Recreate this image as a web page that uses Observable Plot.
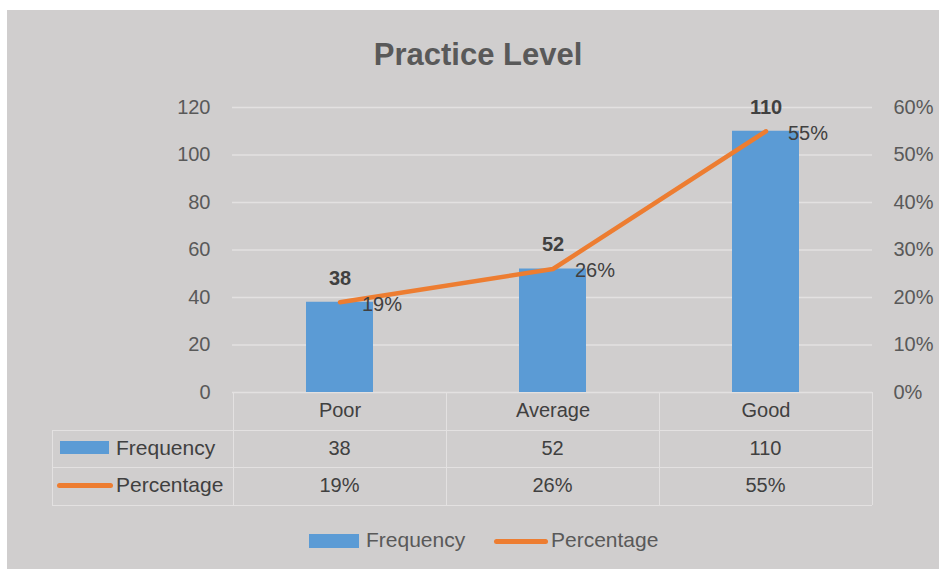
<!DOCTYPE html>
<html>
<head>
<meta charset="utf-8">
<script src="https://cdn.jsdelivr.net/npm/d3@7"></script>
<script src="https://cdn.jsdelivr.net/npm/@observablehq/plot@0.6"></script>
<style>
  html, body { margin: 0; padding: 0; background: #ffffff; }
  body { width: 939px; height: 569px; position: relative; overflow: hidden;
         font-family: "Liberation Sans", Arial, sans-serif; }
  #panel { position: absolute; left: 7px; top: 10px; width: 932px; height: 559px; background: #d0cece; }
  #title { position: absolute; left: 0; width: 956px; top: 37px; text-align: center;
           font-size: 31px; font-weight: bold; color: #595959; }
  #chart { position: absolute; left: 0; top: 0; }
  .hl, .vl { position: absolute; background: #e3e1e1; }
  .cell { position: absolute; font-size: 20px; color: #404040; text-align: center; line-height: 20px; }
  .lbl { position: absolute; font-size: 21px; color: #404040; line-height: 20px; }
  .leg { position: absolute; font-size: 21px; color: #595959; line-height: 20px; }
</style>
</head>
<body>
<div id="panel"></div>
<div id="title">Practice Level</div>
<div id="chart"></div>
<div id="table"></div>
<div id="legend"></div>
<script>
// ---- data ----
const categories = ["Poor", "Average", "Good"];
const frequency = [38, 52, 110];
const percentage = [0.19, 0.26, 0.55];
const leftTicks = [0, 20, 40, 60, 80, 100, 120];
const rightTicks = [0, 0.1, 0.2, 0.3, 0.4, 0.5, 0.6];
const seriesNames = ["Frequency", "Percentage"];

const blue = "#5b9bd5", orange = "#ed7d31";
const yMax = 120, pctMax = 0.6;
const toY = p => p * yMax / pctMax;

const rows = categories.map((c, i) => ({cat: c, freq: frequency[i], pct: percentage[i]}));

const W = 939, H = 569, mL = 232, mR = 67, mT = 107, mB = 177;

const chart = Plot.plot({
  width: W, height: H,
  marginLeft: mL, marginRight: mR, marginTop: mT, marginBottom: mB,
  style: {background: "transparent", fontFamily: "'Liberation Sans', Arial, sans-serif", fontSize: "20px", color: "#595959"},
  x: {domain: categories, padding: 0},
  y: {domain: [0, yMax]},
  marks: [
    Plot.ruleY(leftTicks, {stroke: "#e3e1e1", strokeWidth: 1.3}),
    Plot.barY(rows, {x: "cat", y: "freq", fill: blue, insetLeft: 73, insetRight: 73}),
    Plot.lineY(rows, {x: "cat", y: d => toY(d.pct), stroke: orange, strokeWidth: 4.5, strokeLinecap: "round", strokeLinejoin: "round"}),
    Plot.text(rows, {x: "cat", y: "freq", text: d => String(d.freq), dy: -24, fontWeight: "bold", fontSize: 20, fill: "#404040"}),
    Plot.text(rows, {x: "cat", y: d => toY(d.pct), text: d => Math.round(d.pct * 100) + "%", dx: 22, dy: 2, textAnchor: "start", fontSize: 20, fill: "#404040"}),
    Plot.axisX({tickSize: 0, tickPadding: 10, label: null, fontSize: 20, fill: "#404040"}),
    Plot.axisY({anchor: "left", ticks: leftTicks, tickSize: 0, tickPadding: 22, label: null, fontSize: 20}),
    Plot.axisY({anchor: "right", ticks: rightTicks.map(toY), tickFormat: d => Math.round(d / yMax * pctMax * 100) + "%", tickSize: 0, tickPadding: 21, label: null, fontSize: 20})
  ]
});
document.getElementById("chart").appendChild(chart);

// ---- data table (HTML grid aligned with Plot's x scale) ----
const xs = chart.scale("x");
const table = document.getElementById("table");
const add = (cls, css, text) => {
  const d = document.createElement("div");
  d.className = cls;
  Object.assign(d.style, css);
  if (text != null) d.textContent = text;
  table.appendChild(d);
  return d;
};
const rowY = [392, 430, 467, 505];
const tLeft = 52, tRight = W - mR;
add("hl", {left: mL + "px", top: rowY[0] + "px", width: (tRight - mL) + "px", height: "1.3px"});
for (let r = 1; r < 4; r++) add("hl", {left: tLeft + "px", top: rowY[r] + "px", width: (tRight - tLeft) + "px", height: "1.3px"});
const edges = categories.map(c => xs.apply(c)).concat([xs.apply(categories[categories.length - 1]) + xs.bandwidth]);
edges.forEach(x => add("vl", {left: x + "px", top: rowY[0] + "px", width: "1.3px", height: (rowY[3] - rowY[0]) + "px"}));
add("vl", {left: tLeft + "px", top: rowY[1] + "px", width: "1.3px", height: (rowY[3] - rowY[1]) + "px"});
add("", {position: "absolute", left: "60px", top: "441px", width: "49px", height: "13px", background: blue});
add("lbl", {left: "116px", top: (rowY[1] + 8) + "px"}, seriesNames[0]);
add("", {position: "absolute", left: "57px", top: "483px", width: "56px", height: "4.5px", background: orange, borderRadius: "3px"});
add("lbl", {left: "116px", top: (rowY[2] + 8) + "px"}, seriesNames[1]);
rows.forEach(d => {
  const x0 = xs.apply(d.cat), bw = xs.bandwidth;
  add("cell", {left: x0 + "px", width: bw + "px", top: (rowY[1] + 8) + "px"}, String(d.freq));
  add("cell", {left: x0 + "px", width: bw + "px", top: (rowY[2] + 8) + "px"}, Math.round(d.pct * 100) + "%");
});

// ---- legend ----
const legend = document.getElementById("legend");
const addL = (css, text) => {
  const d = document.createElement("div");
  d.className = "leg";
  Object.assign(d.style, css);
  if (text != null) d.textContent = text;
  legend.appendChild(d);
};
addL({left: "309px", top: "534px", width: "50px", height: "14px", background: blue});
addL({left: "366px", top: "530px"}, seriesNames[0]);
addL({left: "494px", top: "539px", width: "54px", height: "4.5px", background: orange, borderRadius: "3px"});
addL({left: "551px", top: "530px"}, seriesNames[1]);
</script>
</body>
</html>
